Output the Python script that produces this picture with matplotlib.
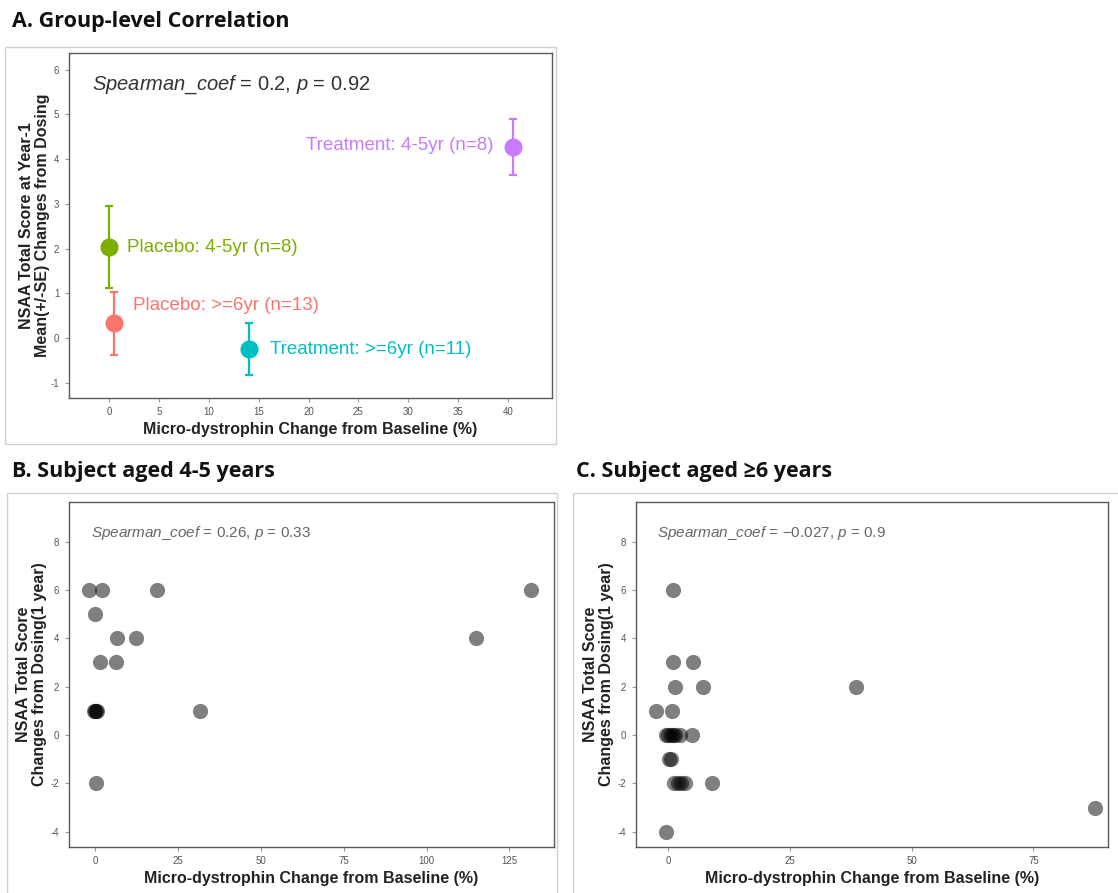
import matplotlib
matplotlib.use('Agg')
import matplotlib.pyplot as plt
from matplotlib.patches import Rectangle

W, H = 1118, 893

# ---------------- Data ----------------
# Panel A: group means with +/- SE
group_labels = ["Placebo: 4-5yr (n=8)", "Placebo: >=6yr (n=13)",
                "Treatment: >=6yr (n=11)", "Treatment: 4-5yr (n=8)"]
group_x = [0.0, 0.5, 14.0, 40.5]
group_mean = [2.03, 0.33, -0.25, 4.28]
group_lo = [1.12, -0.38, -0.84, 3.65]
group_hi = [2.95, 1.02, 0.34, 4.90]
group_colors = ["#7CAE00", "#F8766D", "#00BFC4", "#C77CFF"]

# Panel B: subjects aged 4-5 years
b_x = [-1.9, 2.1, 18.6, 131.6, -0.2, 6.5, 12.2, 115.0, 1.3, 6.3,
       -0.3, 0.0, 0.2, 0.5, 31.5, 0.1]
b_y = [6, 6, 6, 6, 5, 4, 4, 4, 3, 3, 1, 1, 1, 1, 1, -2]

# Panel C: subjects aged >=6 years
c_x = [1.0, 1.0, 5.1, 1.4, 7.1, 38.5, -2.4, 0.7, -0.5, 0.0, 0.5, 1.0,
       1.5, 2.5, 4.8, 0.2, 0.5, 1.3, 2.0, 2.6, 3.4, 9.0, 87.7, -0.5]
c_y = [6, 3, 3, 2, 2, 2, 1, 1, 0, 0, 0, 0, 0, 0, 0, -1, -1, -2, -2, -2,
       -2, -2, -3, -4]

a_xticks = [0, 5, 10, 15, 20, 25, 30, 35, 40]
a_yticks = [-1, 0, 1, 2, 3, 4, 5, 6]
b_xticks = [0, 25, 50, 75, 100, 125]
c_xticks = [0, 25, 50, 75]
bc_yticks = [-4, -2, 0, 2, 4, 6, 8]

a_stat = r"$\it{Spearman\_coef}$ = 0.2, $\it{p}$ = 0.92"
b_stat = r"$\it{Spearman\_coef}$ = 0.26, $\it{p}$ = 0.33"
c_stat = r"$\it{Spearman\_coef}$ = $-$0.027, $\it{p}$ = 0.9"

xlabel = "Micro-dystrophin Change from Baseline (%)"
a_ylabel = "NSAA Total Score at Year-1\nMean(+/-SE) Changes from Dosing"
bc_ylabel = "NSAA Total Score\nChanges from Dosing(1 year)"

# ---------------- Style ----------------
plt.rcParams['font.family'] = ['Liberation Sans', 'DejaVu Sans']
plt.rcParams['mathtext.fontset'] = 'custom'
plt.rcParams['mathtext.it'] = 'Liberation Sans:italic'
plt.rcParams['mathtext.rm'] = 'Liberation Sans'
plt.rcParams['axes.unicode_minus'] = False

fig = plt.figure(figsize=(W / 100, H / 100), dpi=100)


def ax_at(l, t, r, b):
    return fig.add_axes([l / W, 1 - b / H, (r - l) / W, (b - t) / H])


def frame(l, t, r, b):
    fig.patches.append(Rectangle((l / W, 1 - b / H), (r - l) / W, (b - t) / H,
                                 transform=fig.transFigure, fill=False,
                                 edgecolor='#d0d0d0', lw=1.0))


def style(ax):
    for s in ax.spines.values():
        s.set_color('#5a5a5a')
        s.set_linewidth(1.0)
    ax.tick_params(axis='both', length=3, width=0.8, color='#999999',
                   labelsize=7, labelcolor='#555555', pad=4)
    ax.set_xlabel(xlabel, fontsize=11.5, fontweight='bold', color='#222222',
                  labelpad=3)


title_kw = dict(fontsize=15.5, fontweight='bold', color='#111111',
                family=['Open Sans', 'DejaVu Sans'], va='center', ha='left')

# Outer frames
frame(5, 47, 556, 444)
frame(7, 493, 557, 900)
frame(573, 493, 1125, 900)

# ---------------- Panel A ----------------
axA = ax_at(69, 53.3, 552, 397.7)
for i in range(len(group_x)):
    axA.errorbar(group_x[i], group_mean[i],
                 yerr=[[group_mean[i] - group_lo[i]], [group_hi[i] - group_mean[i]]],
                 fmt='o', color=group_colors[i], markersize=12, elinewidth=1.6,
                 capsize=3, capthick=1.6)
label_offsets = [(1.8, 0.0), (1.9, 0.39), (2.1, 0.0), (-2.0, 0.02)]
label_ha = ['left', 'left', 'left', 'right']
for i in range(len(group_x)):
    dx, dy = label_offsets[i]
    axA.text(group_x[i] + dx, group_mean[i] + dy, group_labels[i],
             color=group_colors[i], fontsize=13.5, ha=label_ha[i], va='center')
axA.text(-1.7, 5.66, a_stat, fontsize=14.5, color='#333333', ha='left', va='center')
axA.set_xlim(-4.0, 44.4)
axA.set_ylim(-1.34, 6.37)
axA.set_xticks(a_xticks)
axA.set_yticks(a_yticks)
style(axA)
axA.set_ylabel(a_ylabel, fontsize=11.5, fontweight='bold', color='#222222',
               linespacing=1.05)
axA.yaxis.set_label_coords(-0.040, 0.5)
fig.text(12 / W, 1 - 21 / H, "A. Group-level Correlation", **title_kw)

# ---------------- Panel B ----------------
axB = ax_at(69, 501.7, 554, 846.7)
axB.scatter(b_x, b_y, s=120, color='black', alpha=0.5, linewidths=0)
axB.text(-1.5, 8.34, b_stat, fontsize=11, color='#666666', ha='left', va='center')
axB.set_xlim(-8.0, 138.5)
axB.set_ylim(-4.62, 9.65)
axB.set_xticks(b_xticks)
axB.set_yticks(bc_yticks)
style(axB)
axB.set_ylabel(bc_ylabel, fontsize=11.5, fontweight='bold', color='#222222',
               linespacing=1.05)
axB.yaxis.set_label_coords(-0.046, 0.5)
fig.text(12 / W, 1 - 471 / H, "B. Subject aged 4-5 years", **title_kw)

# ---------------- Panel C ----------------
axC = ax_at(636, 501.7, 1108, 846.7)
axC.scatter(c_x, c_y, s=120, color='black', alpha=0.5, linewidths=0)
axC.text(-2.3, 8.34, c_stat, fontsize=11, color='#666666', ha='left', va='center')
axC.set_xlim(-6.6, 90.3)
axC.set_ylim(-4.62, 9.65)
axC.set_xticks(c_xticks)
axC.set_yticks(bc_yticks)
style(axC)
axC.set_ylabel(bc_ylabel, fontsize=11.5, fontweight='bold', color='#222222',
               linespacing=1.05)
axC.yaxis.set_label_coords(-0.047, 0.5)
fig.text(576 / W, 1 - 471 / H, "C. Subject aged \u22656 years", **title_kw)

fig.savefig('out.png', dpi=100, facecolor='white')
